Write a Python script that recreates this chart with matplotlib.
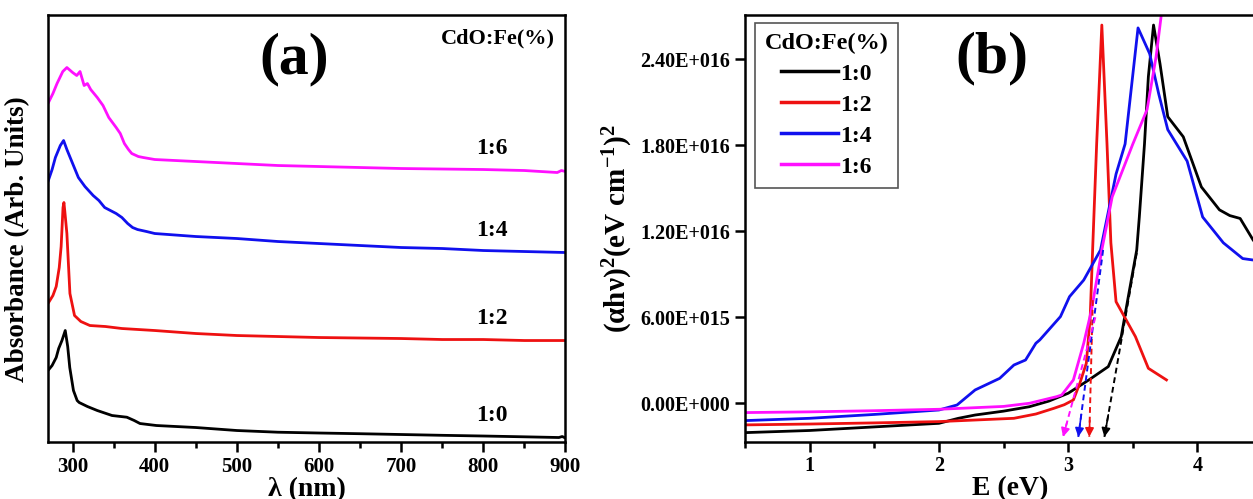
import math
import matplotlib
matplotlib.use("Agg")
import matplotlib.pyplot as plt
from matplotlib.ticker import MultipleLocator, FuncFormatter

plt.rcParams['font.family'] = ['Liberation Serif', 'DejaVu Serif']
plt.rcParams['font.weight'] = 'bold'
plt.rcParams['mathtext.fontset'] = 'custom'
plt.rcParams['mathtext.rm'] = 'Liberation Serif:bold'
plt.rcParams['mathtext.it'] = 'Liberation Serif:bold'
plt.rcParams['mathtext.bf'] = 'Liberation Serif:bold'

series_labels = ['1:0', '1:2', '1:4', '1:6']
series_colors = ['black', '#ee1111', '#1010ee', '#ff10ff']

# ---- (a) absorbance spectra (arbitrary units, curves stacked) ----
wl_0 = [270, 275, 280, 283, 287, 291, 294, 296.5, 301, 305.5, 308, 318, 330, 348, 366,
        375, 382, 402, 450, 500, 550, 600, 650, 700, 750, 800, 850, 892, 896, 900]
abs_0 = [0.71, 0.76, 0.84, 0.93, 1.01, 1.11, 0.95, 0.74, 0.51, 0.41, 0.39, 0.35, 0.31,
         0.26, 0.243, 0.21, 0.18, 0.16, 0.14, 0.11, 0.093, 0.085, 0.078, 0.07, 0.062,
         0.055, 0.047, 0.04, 0.05, 0.035]

wl_2 = [270, 276, 280, 283.7, 286, 288.3, 289.4, 290.5, 293, 296.7, 302.3, 310, 321,
        340, 360, 380, 400, 450, 500, 550, 600, 650, 700, 750, 800, 850, 900]
abs_2 = [1.38, 1.46, 1.55, 1.74, 1.95, 2.34, 2.39, 2.30, 2.08, 1.48, 1.26, 1.20, 1.16,
         1.15, 1.13, 1.12, 1.11, 1.08, 1.06, 1.05, 1.04, 1.035, 1.03, 1.02, 1.02, 1.01,
         1.01]

wl_4 = [270, 275, 279, 285, 289, 293, 300, 307, 315, 325, 332, 339, 346, 353, 360, 367,
        373, 379, 390, 400, 450, 500, 550, 600, 650, 700, 750, 800, 850, 900]
abs_4 = [2.60, 2.72, 2.84, 2.96, 3.01, 2.92, 2.78, 2.64, 2.55, 2.46, 2.41, 2.34, 2.31,
         2.28, 2.24, 2.18, 2.14, 2.12, 2.10, 2.08, 2.05, 2.03, 2.00, 1.98, 1.96, 1.94,
         1.93, 1.91, 1.90, 1.89]

wl_6 = [270, 276, 281, 288, 293, 300, 305, 309, 314, 318, 322, 330, 337, 344, 353, 358,
        363, 368, 372, 380, 386, 400, 450, 500, 550, 600, 650, 700, 750, 800, 850, 890,
        895, 900]
abs_6 = [3.38, 3.48, 3.58, 3.70, 3.74, 3.69, 3.66, 3.70, 3.56, 3.58, 3.52, 3.44, 3.36,
         3.24, 3.14, 3.08, 2.98, 2.92, 2.88, 2.85, 2.84, 2.82, 2.80, 2.78, 2.76, 2.75,
         2.74, 2.73, 2.725, 2.72, 2.71, 2.69, 2.71, 2.70]

# label positions beside each curve
label_wl = 810
label_abs = [0.265, 1.235, 2.115, 2.935]

# ---- (b) Tauc plot, (alpha h nu)^2 in units of 1e15 ----
E_0 = [0.5, 1.0, 1.5, 2.0, 2.15, 2.28, 2.5, 2.70, 2.85, 3.0, 3.16, 3.31, 3.41, 3.46,
       3.53, 3.55, 3.59, 3.62, 3.66, 3.71, 3.77, 3.83, 3.89, 4.03, 4.17, 4.25, 4.33,
       4.43, 4.55]
tauc_0 = [-2.05, -1.90, -1.65, -1.40, -1.05, -0.82, -0.55, -0.24, 0.15, 0.70, 1.63,
          2.56, 4.65, 7.2, 10.7, 13.0, 18.1, 22.8, 26.4, 23.7, 20.0, 19.3, 18.6, 15.1,
          13.5, 13.1, 12.9, 11.4, 10.0]

E_2 = [0.5, 1.0, 1.5, 2.0, 2.58, 2.75, 2.89, 2.97, 3.04, 3.09, 3.14, 3.17, 3.19, 3.22,
       3.26, 3.30, 3.33, 3.37, 3.52, 3.62, 3.76]
tauc_2 = [-1.51, -1.45, -1.37, -1.28, -1.05, -0.75, -0.35, -0.10, 0.23, 1.40, 2.79, 6.0,
          11.0, 18.1, 26.4, 18.1, 11.2, 7.09, 4.65, 2.44, 1.63]

E_4 = [0.5, 1.0, 1.5, 2.0, 2.14, 2.28, 2.47, 2.58, 2.67, 2.75, 2.78, 2.94, 3.01, 3.12,
       3.25, 3.37, 3.44, 3.54, 3.63, 3.70, 3.77, 3.92, 4.04, 4.20, 4.35, 4.43, 4.55]
tauc_4 = [-1.21, -1.05, -0.78, -0.47, -0.12, 0.93, 1.74, 2.67, 3.02, 4.19, 4.42, 6.05,
          7.44, 8.6, 10.7, 16.0, 18.1, 26.2, 24.4, 21.6, 19.1, 16.9, 13.0, 11.2, 10.1,
          10.0, 9.9]

E_6 = [0.5, 1.0, 1.5, 2.0, 2.5, 2.70, 2.91, 2.95, 3.04, 3.12, 3.18, 3.26, 3.34, 3.50,
       3.61, 3.68, 3.72, 3.76]
tauc_6 = [-0.65, -0.60, -0.52, -0.42, -0.22, 0.0, 0.46, 0.58, 1.63, 4.19, 6.5, 10.7,
          14.4, 18.1, 20.5, 24.2, 27.1, 29.0]

# extrapolated band gaps (arrow tips) and the upper end of each tangent line
gap_E = [3.28, 3.163, 3.078, 2.96]
tangent_top_E = [3.53, 3.19, 3.27, 3.21]
tangent_top_y = [10.5, 7.2, 10.7, 6.0]
tangent_base_y = -2.35

fig = plt.figure(figsize=(12.53, 4.99), dpi=100)

# ---------------- panel (a) ----------------
ax1 = fig.add_axes([0.0383, 0.1152, 0.4130, 0.8547])
for wl, ab, c in zip([wl_0, wl_2, wl_4, wl_6], [abs_0, abs_2, abs_4, abs_6], series_colors):
    ax1.plot(wl, ab, color=c, lw=2.0)
ax1.set_xlim(270, 900)
ax1.set_ylim(0, 4.265)
ax1.xaxis.set_major_locator(MultipleLocator(100))
ax1.xaxis.set_minor_locator(MultipleLocator(50))
ax1.set_yticks([])
ax1.tick_params(axis='x', which='major', direction='out', length=7, width=1.8,
                labelsize=15, pad=4, top=False)
ax1.tick_params(axis='x', which='minor', direction='out', length=4, width=1.8, top=False)
for lab in ax1.get_xticklabels():
    lab.set_fontweight('bold')
for sp in ax1.spines.values():
    sp.set_linewidth(1.8)
ax1.set_xlabel('λ (nm)', fontsize=20, fontweight='bold', labelpad=0)
ax1.set_ylabel('Absorbance (Arb. Units)', fontsize=19.5, fontweight='bold')
ax1.yaxis.set_label_coords(-0.035, 0.475)
for lbl, y in zip(series_labels, label_abs):
    ax1.text(label_wl, y, lbl, fontsize=17, fontweight='bold', ha='center', va='center')
ax1.text(0.87, 0.946, 'CdO:Fe(%)', transform=ax1.transAxes, fontsize=16,
         fontweight='bold', ha='center', va='center')
ax1.text(0.475, 0.895, '(a)', transform=ax1.transAxes, fontsize=43,
         fontweight='bold', ha='center', va='center')

# ---------------- panel (b) ----------------
ax2 = fig.add_axes([0.5946, 0.1152, 0.4230, 0.8547])
scale = 1e15
lines = []
for E, t, c, lbl in zip([E_0, E_2, E_4, E_6], [tauc_0, tauc_2, tauc_4, tauc_6],
                        series_colors, series_labels):
    ln, = ax2.plot(E, [v * scale for v in t], color=c, lw=2.0, label=lbl)
    lines.append(ln)

for eg, xe, ye, c in zip(gap_E, tangent_top_E, tangent_top_y, series_colors):
    ax2.plot([xe, eg], [ye * scale, tangent_base_y * scale], color=c, lw=1.4,
             linestyle=(0, (3, 2)))
    frac = 0.12
    xs = eg + (xe - eg) * frac
    ys = tangent_base_y + (ye - tangent_base_y) * frac
    ax2.annotate('', xy=(eg, tangent_base_y * scale), xytext=(xs, ys * scale),
                 arrowprops=dict(arrowstyle='-|>', color=c, lw=1.2, mutation_scale=13,
                                 shrinkA=0, shrinkB=0))

ax2.set_xlim(0.5, 4.6)
ax2.set_ylim(-2.67e15, 2.71e16)
ax2.xaxis.set_major_locator(MultipleLocator(1))
ax2.xaxis.set_minor_locator(MultipleLocator(0.5))
ax2.set_yticks([0, 6e15, 1.2e16, 1.8e16, 2.4e16])


def sci_fmt(v, pos):
    if v == 0:
        return '0.00E+000'
    e = int(math.floor(math.log10(abs(v))))
    m = v / 10 ** e
    sign = '+' if e >= 0 else '-'
    return f'{m:.2f}E{sign}{abs(e):03d}'


ax2.yaxis.set_major_formatter(FuncFormatter(sci_fmt))
ax2.tick_params(axis='both', which='major', direction='out', length=7, width=1.8,
                labelsize=14.5, top=False, right=False)
ax2.tick_params(axis='x', which='minor', direction='out', length=4, width=1.8, top=False)
for lab in ax2.get_xticklabels() + ax2.get_yticklabels():
    lab.set_fontweight('bold')
for sp in ax2.spines.values():
    sp.set_linewidth(1.8)
ax2.set_xlabel('E (eV)', fontsize=20, fontweight='bold', labelpad=0)
ax2.set_ylabel(r'$\mathrm{(\alpha h\nu)^{2}(eV\ cm^{-1})^{2}}$', fontsize=21, labelpad=4)
ax2.text(2.41, 2.41e16, '(b)', fontsize=43, fontweight='bold', ha='center', va='center')

leg = ax2.legend(handles=lines, loc='upper left', bbox_to_anchor=(0.018, 0.982),
                 borderaxespad=0, fancybox=False, edgecolor='#555555', framealpha=1,
                 fontsize=17, title='CdO:Fe(%)', title_fontsize=17.5, handlelength=2.4,
                 handletextpad=0.1, labelspacing=0.4, borderpad=0.42)
leg.get_frame().set_linewidth(1.2)
leg.get_title().set_fontweight('bold')
for t in leg.get_texts():
    t.set_fontweight('bold')
for h in leg.get_lines():
    h.set_linewidth(2.5)

fig.savefig('out.png', dpi=100)
